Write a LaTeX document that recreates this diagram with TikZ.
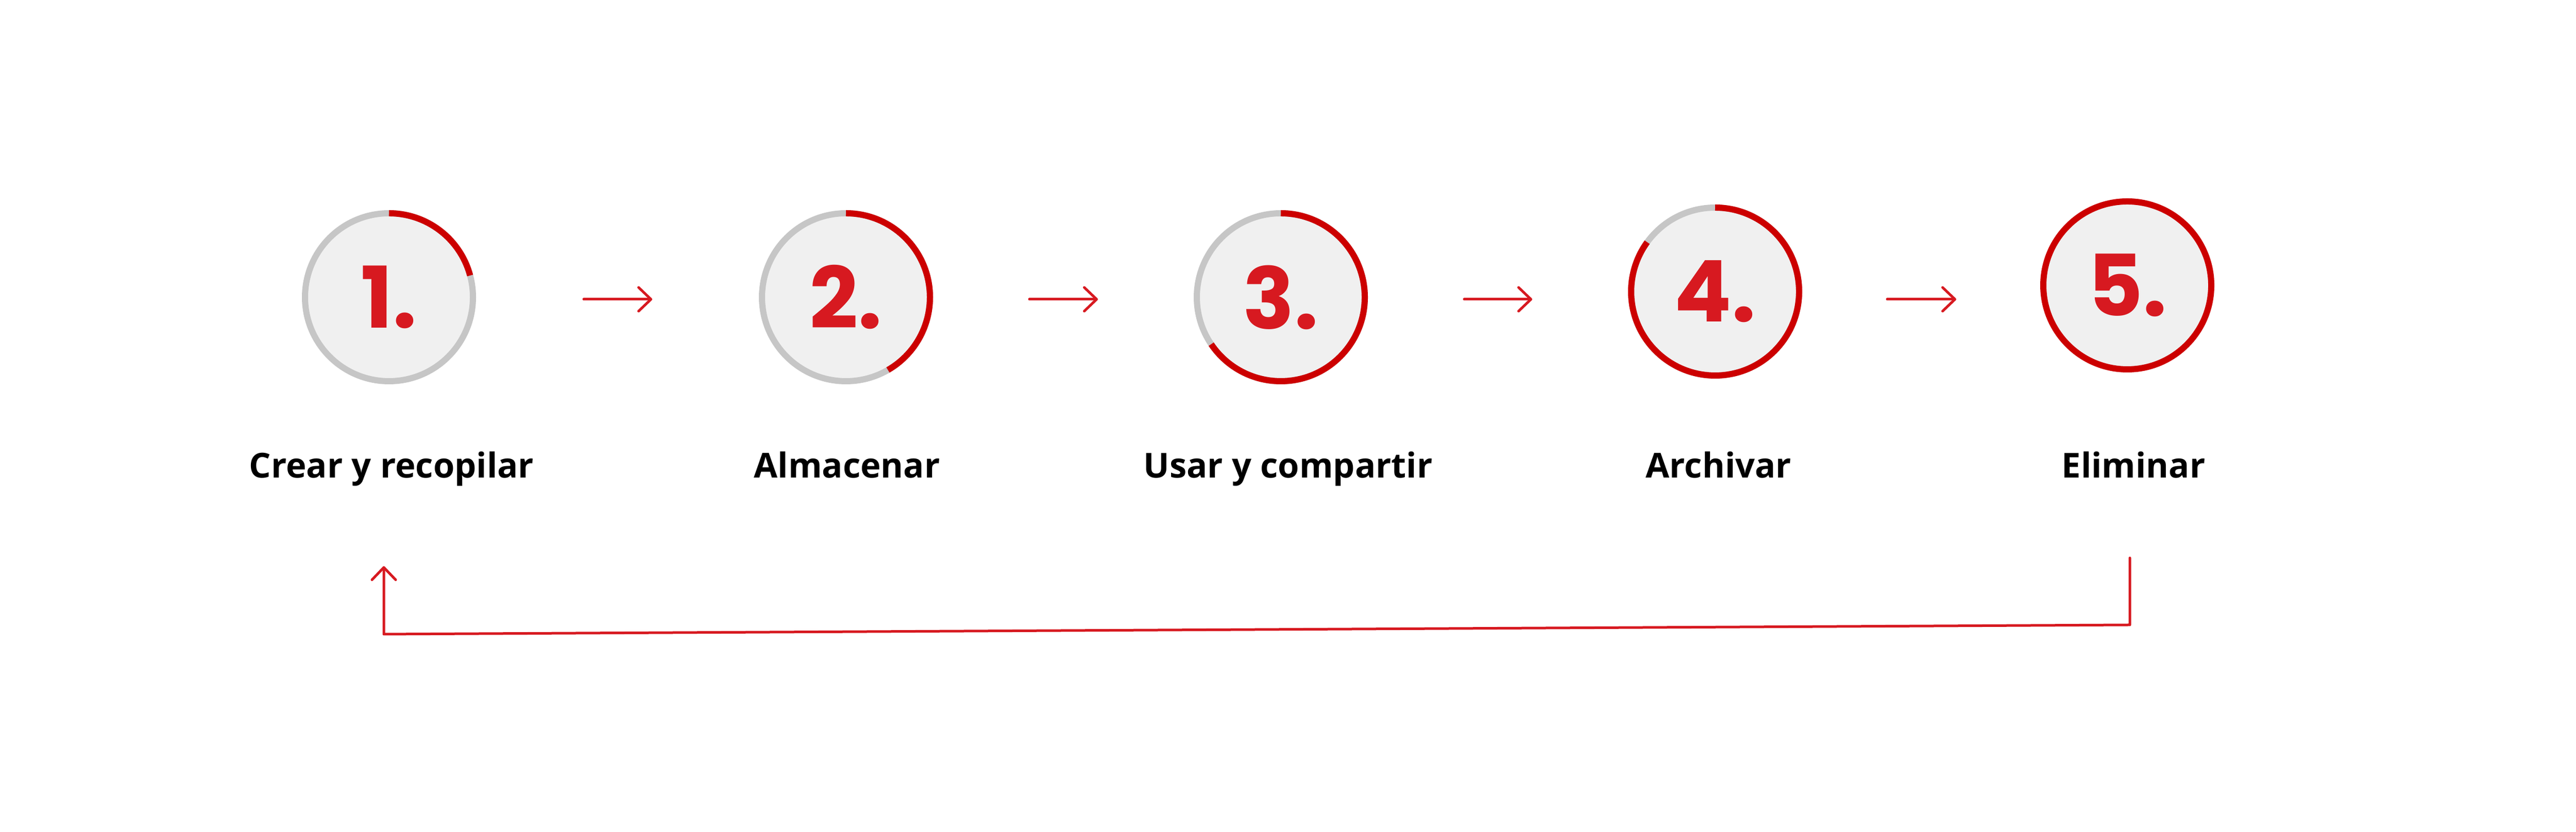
\documentclass[tikz,border=0pt]{standalone}
\usepackage{fontspec}
\setmainfont{Open Sans}
\newfontfamily\numfont{Poppins}
\usetikzlibrary{arrows.meta}

\definecolor{ringgray}{HTML}{C6C6C6}
\definecolor{discfill}{HTML}{F0F0F0}
\definecolor{ringred}{HTML}{CC0000}
\definecolor{numred}{HTML}{D71920}
\definecolor{flowred}{HTML}{D71920}

\begin{document}
\begin{tikzpicture}[
    stage/.style={circle, draw=ringgray, fill=discfill, line width=1.2mm, minimum size=3.26cm, inner sep=0pt, text=numred, font=\numfont\bfseries\fontsize{47}{47}\selectfont},
    progress/.style={draw=ringred, line width=1.2mm},
    caption/.style={anchor=base, font=\bfseries\fontsize{19}{23}\selectfont},
    flow/.style={draw=flowred, line width=0.5mm, line cap=round, line join=round, -{Straight Barb[round, length=2.4mm, width=4.6mm]}}
]
    \useasboundingbox (0,0) rectangle (50,16.15);

    \node[stage] (s1) at (7.55,10.38) {1.};
    \node[stage] (s2) at (16.42,10.38) {2.};
    \node[stage] (s3) at (24.86,10.38) {3.};
    \node[stage] (s4) at (33.29,10.49) {4.};
    \node[stage, draw=ringred] (s5) at (41.29,10.61) {5.};

    % how far each step has come round
    \draw[progress] (s1.center) ++(90:1.63) arc[start angle=90, end angle=15, radius=1.63];
    \draw[progress] (s2.center) ++(90:1.63) arc[start angle=90, end angle=-60, radius=1.63];
    \draw[progress] (s3.center) ++(90:1.63) arc[start angle=90, end angle=-146, radius=1.63];
    \draw[progress] (s4.center) ++(90:1.63) arc[start angle=90, end angle=-216, radius=1.63];

    \node[caption] (l1) at (7.60,6.87) {Crear y recopilar};
    \node[caption] (l2) at (16.44,6.87) {Almacenar};
    \node[caption] (l3) at (25.00,6.87) {Usar y compartir};
    \node[caption] (l4) at (33.36,6.87) {Archivar};
    \node[caption] (l5) at (41.41,6.87) {Eliminar};

    \coordinate (axis) at (0,10.34);
    \draw[flow] ([xshift=2.09cm]s1.east |- axis) -- ([xshift=-2.07cm]s2.west |- axis);
    \draw[flow] ([xshift=1.87cm]s2.east |- axis) -- ([xshift=-1.86cm]s3.west |- axis);
    \draw[flow] ([xshift=1.87cm]s3.east |- axis) -- ([xshift=-1.86cm]s4.west |- axis);
    \draw[flow] ([xshift=1.65cm]s4.east |- axis) -- ([xshift=-1.63cm]s5.west |- axis);

    % back to the start
    \coordinate (back) at (41.34,5.32);
    \coordinate (restart) at (7.45,5.16);
    \draw[flow] (back) -- (41.34,4.02) -- (7.45,3.84) -- (restart);
\end{tikzpicture}
\end{document}
